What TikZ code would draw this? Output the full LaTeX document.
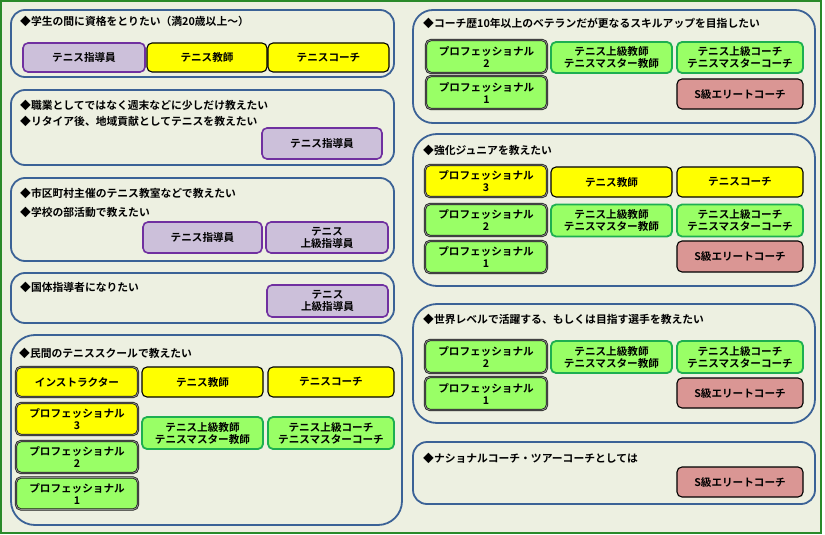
\documentclass[tikz,border=0pt]{standalone}
\usepackage{fontspec}
\newfontfamily\jp{Noto Sans CJK JP}[BoldFont={* Bold}]
\definecolor{bgc}{HTML}{EDF0E1}
\definecolor{framec}{HTML}{2A8A2A}
\definecolor{panelc}{HTML}{3B6296}
\definecolor{lavc}{HTML}{CCC0DA}
\definecolor{purpc}{HTML}{7030A0}
\definecolor{yelc}{HTML}{FFFF00}
\definecolor{grnc}{HTML}{99FF66}
\definecolor{grnd}{HTML}{1DAF50}
\definecolor{pinkc}{HTML}{DA9694}
\tikzset{
  panel/.style={draw=panelc,line width=1.8pt,fill=bgc,rounded corners=14pt},
  bigpanel/.style={panel,rounded corners=24pt},
  ttl/.style={anchor=west,inner sep=0pt,font=\jp\bfseries\fontsize{10.8}{12}\selectfont},
  box/.style={rounded corners=5pt,inner sep=0pt,align=center,
    minimum height=31pt,font=\jp\bfseries\fontsize{10.6}{12}\selectfont},
  shido/.style={box,fill=lavc,draw=purpc,line width=1.6pt},
  kyoshi/.style={box,fill=yelc,draw=black,line width=1.1pt},
  jokyu/.style={box,fill=grnc,draw=grnd,line width=1.8pt},
  elite/.style={box,fill=pinkc,draw=black,line width=1.1pt},
  pro/.style={box,fill=grnc,draw=black!90,double=black!45,
    double distance=0.9pt,line width=0.7pt},
  proy/.style={pro,fill=yelc}
}
\begin{document}
\begin{tikzpicture}[x=1pt,y=-1pt]
  \useasboundingbox[fill=white] (0,0) rectangle (825,535);
  \draw[framec,line width=2pt,fill=bgc] (1,1) rectangle (821,533);
  % left column
  \draw[panel] (11,10) rectangle (394,77);
  \node[ttl] (t1) at (20,21) {◆学生の間に資格をとりたい（満20歳以上～）};
  \node[shido,minimum width=122pt,minimum height=29pt] (a1) at (84,57.5) {テニス指導員};
  \node[kyoshi,minimum width=120pt,minimum height=29pt] (a2) at (207,57.5) {テニス教師};
  \node[kyoshi,minimum width=121pt,minimum height=29pt] (a3) at (328.5,57.5) {テニスコーチ};

  \draw[panel] (11,90) rectangle (394,165);
  \node[ttl] (t2) at (20,105) {◆職業としてではなく週末などに少しだけ教えたい};
  \node[ttl] (t2b) at (20,121) {◆リタイア後、地域貢献としてテニスを教えたい};
  \node[shido,minimum width=120pt] (b1) at (322,143.5) {テニス指導員};

  \draw[panel] (11,178) rectangle (394,261);
  \node[ttl] (t3) at (20,193) {◆市区町村主催のテニス教室などで教えたい};
  \node[ttl] (t3b) at (20,212) {◆学校の部活動で教えたい};
  \node[shido,minimum width=119pt] (c1) at (202.5,237.5) {テニス指導員};
  \node[shido,minimum width=122pt] (c2) at (327,237.5) {テニス\\上級指導員};

  \draw[panel] (11,273) rectangle (394,323);
  \node[ttl] (t4) at (20,287) {◆国体指導者になりたい};
  \node[shido,minimum width=121pt,minimum height=32pt] (d1) at (327.5,301) {テニス\\上級指導員};

  \draw[bigpanel] (11,335) rectangle (402,525);
  \node[ttl] (t5) at (19,353) {◆民間のテニススクールで教えたい};
  \node[proy,minimum width=122pt,minimum height=30pt] (e1) at (77,382) {インストラクター};
  \node[kyoshi,minimum width=121pt,minimum height=30pt] (e2) at (202.5,382) {テニス教師};
  \node[kyoshi,minimum width=126pt,minimum height=30pt] (e3) at (331,382) {テニスコーチ};
  \node[proy,minimum width=122pt,minimum height=32pt] (e4) at (77,419) {プロフェッショナル\\3};
  \node[pro,minimum width=122pt,minimum height=32pt] (e5) at (77,457) {プロフェッショナル\\2};
  \node[pro,minimum width=122pt,minimum height=32pt] (e6) at (77,493.5) {プロフェッショナル\\1};
  \node[jokyu,minimum width=121pt,minimum height=32pt] (e7) at (202.5,433) {テニス上級教師\\テニスマスター教師};
  \node[jokyu,minimum width=126pt,minimum height=32pt] (e8) at (331,433) {テニス上級コーチ\\テニスマスターコーチ};
  % right column
  \draw[bigpanel,rounded corners=20pt] (413,10) rectangle (815,123);
  \node[ttl] (t6) at (423,23) {◆コーチ歴10年以上のベテランだが更なるスキルアップを目指したい};
  \node[pro,minimum width=121pt,minimum height=33pt] (f1) at (486.5,56.5) {プロフェッショナル\\2};
  \node[jokyu,minimum width=121pt] (f2) at (611.5,57.5) {テニス上級教師\\テニスマスター教師};
  \node[jokyu,minimum width=126pt] (f3) at (740,57.5) {テニス上級コーチ\\テニスマスターコーチ};
  \node[pro,minimum width=121pt,minimum height=33pt] (f4) at (486.5,92.5) {プロフェッショナル\\1};
  \node[elite,minimum width=126pt,minimum height=30pt] (f5) at (740,94) {S級エリートコーチ};

  \draw[bigpanel] (413,134) rectangle (815,286);
  \node[ttl] (t7) at (423,150) {◆強化ジュニアを教えたい};
  \node[proy,minimum width=122pt,minimum height=32pt] (g1) at (486,181) {プロフェッショナル\\3};
  \node[kyoshi,minimum width=121pt,minimum height=30pt] (g2) at (611.5,182) {テニス教師};
  \node[kyoshi,minimum width=126pt,minimum height=30pt] (g3) at (740,182) {テニスコーチ};
  \node[pro,minimum width=122pt,minimum height=32pt] (g4) at (486,220) {プロフェッショナル\\2};
  \node[jokyu,minimum width=121pt,minimum height=32pt] (g5) at (611.5,220.5) {テニス上級教師\\テニスマスター教師};
  \node[jokyu,minimum width=126pt,minimum height=32pt] (g6) at (740,220.5) {テニス上級コーチ\\テニスマスターコーチ};
  \node[pro,minimum width=122pt,minimum height=32pt] (g7) at (486,257) {プロフェッショナル\\1};
  \node[elite,minimum width=126pt] (g8) at (740,256.5) {S級エリートコーチ};

  \draw[bigpanel] (413,304) rectangle (815,423);
  \node[ttl] (t8) at (423,319) {◆世界レベルで活躍する、もしくは目指す選手を教えたい};
  \node[pro,minimum width=122pt,minimum height=33pt] (h1) at (486,356.5) {プロフェッショナル\\2};
  \node[jokyu,minimum width=121pt,minimum height=32pt] (h2) at (611.5,357) {テニス上級教師\\テニスマスター教師};
  \node[jokyu,minimum width=126pt,minimum height=32pt] (h3) at (740,357) {テニス上級コーチ\\テニスマスターコーチ};
  \node[pro,minimum width=122pt,minimum height=33pt] (h4) at (486,393.5) {プロフェッショナル\\1};
  \node[elite,minimum width=126pt,minimum height=30pt] (h5) at (740,393) {S級エリートコーチ};

  \draw[panel] (413,442) rectangle (815,504);
  \node[ttl] (t9) at (423,458) {◆ナショナルコーチ・ツアーコーチとしては};
  \node[elite,minimum width=126pt,minimum height=30pt] (i1) at (740,482) {S級エリートコーチ};
\end{tikzpicture}
\end{document}
